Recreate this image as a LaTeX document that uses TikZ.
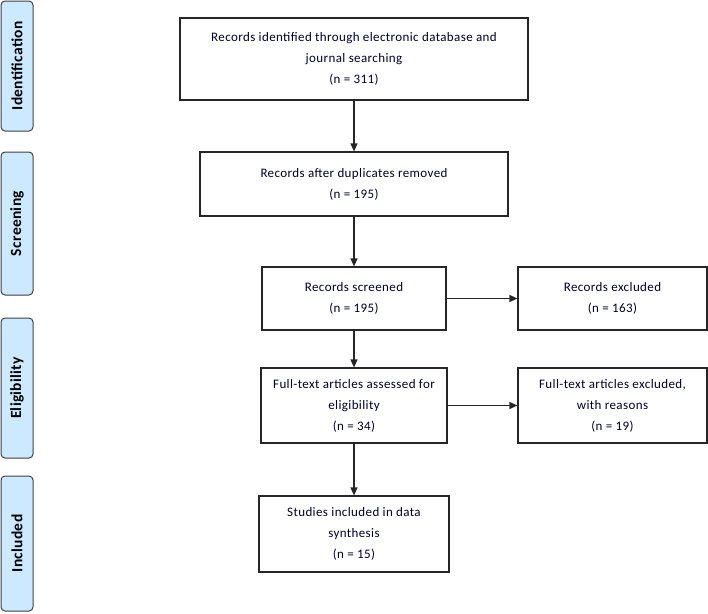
\documentclass[tikz,border=0pt]{standalone}
\usepackage{fontspec}
\setmainfont{Carlito}
\newfontfamily\boxfont[LetterSpace=3]{Carlito}
\newfontfamily\phasefont[LetterSpace=2]{Carlito}
\usetikzlibrary{arrows.meta, positioning}
\definecolor{phaseblue}{RGB}{205,233,255}

\begin{document}
\begin{tikzpicture}[x=1pt, y=-1pt, >={Triangle[length=8pt,width=7pt]},
    font=\boxfont\fontsize{13}{21}\selectfont]
  \tikzset{
    box/.style={draw=black!85, line width=1.2pt, fill=white,
      align=center, inner sep=2pt, text=black!85!blue},
    phase/.style={draw=black!75, line width=1pt, rounded corners=4pt,
      fill=phaseblue, rotate=90, minimum height=32pt, inner sep=0pt,
      font=\phasefont\fontsize{15.5}{17}\selectfont\bfseries},
    arr/.style={->, line width=1.2pt, black!85},
  }
  \useasboundingbox (0,0) rectangle (708,613);
  % Phases
  \node[phase, minimum width=130pt] (pid)  at (17,66)    {Identification};
  \node[phase, minimum width=143pt] (pscr) at (17,223.5) {Screening};
  \node[phase, minimum width=140pt] (pel)  at (17,388)   {Eligibility};
  \node[phase, minimum width=135pt] (pinc) at (17,543.5) {Included};
  % Main column
  \node[box, minimum width=348pt, minimum height=82pt] (found) at (354,59)
    {Records identified through electronic database and\\
     journal searching\\ (n = 311)};
  \node[box, minimum width=308pt, minimum height=64pt] (dedup) at (354,184)
    {Records after duplicates removed\\ (n = 195)};
  \node[box, minimum width=184pt, minimum height=63pt] (screen) at (354,298.5)
    {Records screened\\ (n = 195)};
  \node[box, minimum width=186pt, minimum height=75pt] (full) at (354,405.5)
    {Full-text articles assessed for\\ eligibility\\ (n = 34)};
  \node[box, minimum width=190pt, minimum height=76pt] (incl) at (354,534)
    {Studies included in data\\ synthesis\\ (n = 15)};
  % Exclusions
  \node[box, minimum width=189pt, minimum height=63pt] (excl) at (612.5,298.5)
    {Records excluded\\ (n = 163)};
  \node[box, minimum width=189pt, minimum height=75pt] (fexcl) at (612.5,405.5)
    {Full-text articles excluded,\\ with reasons\\ (n = 19)};
  % Arrows
  \draw[arr] (found) -- (dedup);
  \draw[arr] (dedup) -- (screen);
  \draw[arr] (screen) -- (full);
  \draw[arr] (full) -- (incl);
  \draw[arr] (screen) -- (excl);
  \draw[arr] (full) -- (fexcl);
\end{tikzpicture}
\end{document}
